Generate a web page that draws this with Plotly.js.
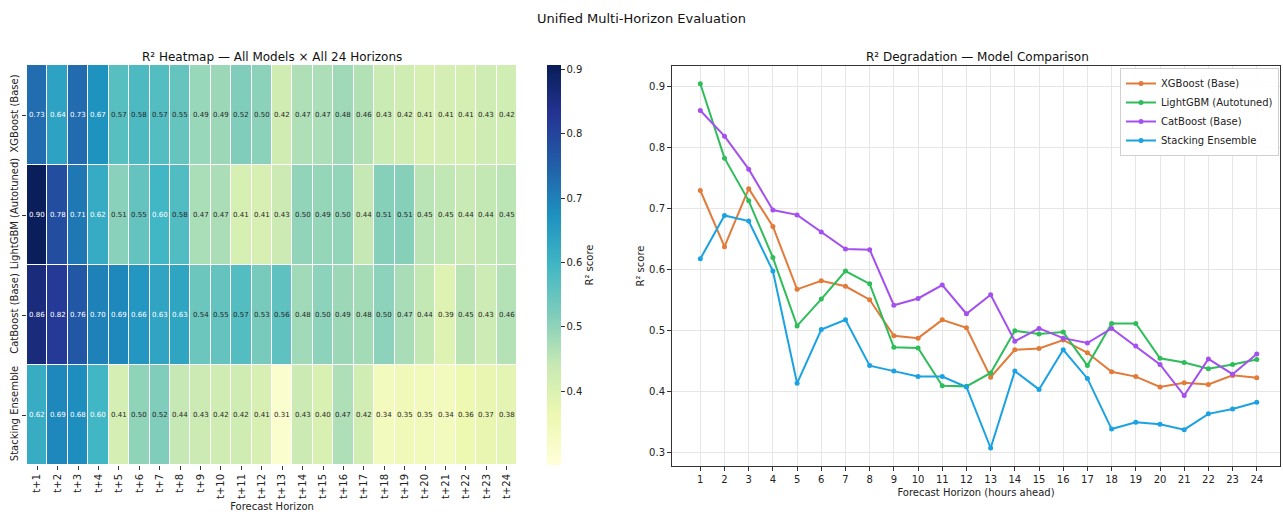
<!DOCTYPE html>
<html>
<head>
<meta charset="utf-8">
<script src="https://cdn.plot.ly/plotly-3.0.1.min.js"></script>
<style>html,body{margin:0;padding:0;background:#fff;}#chart{width:1283px;height:512px;}</style>
</head>
<body>
<div id="chart"></div>
<script>
const models = ["XGBoost (Base)", "LightGBM (Autotuned)", "CatBoost (Base)", "Stacking Ensemble"];
const horizons = [1,2,3,4,5,6,7,8,9,10,11,12,13,14,15,16,17,18,19,20,21,22,23,24];
const horizonLabels = horizons.map(h => "t+" + h);

const xgbR2 = [0.729,0.637,0.732,0.670,0.567,0.581,0.572,0.550,0.491,0.487,0.517,0.504,0.423,0.468,0.470,0.484,0.463,0.432,0.424,0.407,0.414,0.411,0.426,0.422];
const lgbmR2 = [0.904,0.782,0.712,0.619,0.507,0.551,0.597,0.576,0.472,0.471,0.409,0.408,0.430,0.499,0.494,0.497,0.442,0.511,0.511,0.454,0.447,0.437,0.444,0.452];
const catR2 = [0.860,0.818,0.764,0.697,0.689,0.661,0.633,0.632,0.541,0.552,0.574,0.527,0.558,0.482,0.503,0.487,0.479,0.503,0.474,0.444,0.393,0.453,0.428,0.461];
const stackR2 = [0.617,0.688,0.679,0.597,0.413,0.501,0.517,0.442,0.433,0.424,0.424,0.407,0.307,0.433,0.403,0.468,0.421,0.338,0.349,0.346,0.337,0.363,0.371,0.382];

const seriesAll = [xgbR2, lgbmR2, catR2, stackR2];
const lineColors = ["#e27a3a", "#2ebd5a", "#a450ef", "#1ba2e2"];

const ylgnbu = [
  [0.0, "#ffffd9"], [0.125, "#edf8b1"], [0.25, "#c7e9b4"], [0.375, "#7fcdbb"],
  [0.5, "#41b6c4"], [0.625, "#1d91c0"], [0.75, "#225ea8"], [0.875, "#253494"], [1.0, "#081d58"]
];

const font = "DejaVu Sans, Liberation Sans, sans-serif";
const W = 1283, H = 512;

const traces = [];
traces.push({
  type: "heatmap",
  x: horizonLabels,
  y: models,
  z: seriesAll,
  colorscale: ylgnbu,
  zmin: 0.285, zmax: 0.907,
  xgap: 1, ygap: 1,
  hoverinfo: "skip",
  xaxis: "x", yaxis: "y",
  colorbar: {
    x: 547 / W, xanchor: "left", xpad: 0,
    y: 1 - 265 / H, yanchor: "middle", ypad: 0,
    len: 400, lenmode: "pixels",
    thickness: 14, outlinewidth: 0,
    ticks: "outside", ticklen: 4, tickcolor: "#333",
    tickvals: [0.4, 0.5, 0.6, 0.7, 0.8, 0.9],
    ticktext: ["0.4", "0.5", "0.6", "0.7", "0.8", "0.9"],
    tickfont: { size: 10, color: "#222", family: font },
    title: { text: "R² score", side: "right", font: { size: 10, color: "#222", family: font } }
  }
});

models.forEach((m, i) => {
  traces.push({
    type: "scatter",
    mode: "lines+markers",
    name: m,
    x: horizons,
    y: seriesAll[i],
    line: { color: lineColors[i], width: 2 },
    marker: { color: lineColors[i], size: 5 },
    xaxis: "x2", yaxis: "y2",
    hoverinfo: "skip"
  });
});

const annotations = [];
models.forEach((m, i) => {
  seriesAll[i].forEach((v, j) => {
    annotations.push({
      x: horizonLabels[j], y: m, xref: "x", yref: "y",
      text: v.toFixed(2), showarrow: false,
      font: { size: 7, family: font, color: v > 0.59 ? "#ffffff" : "#262626" }
    });
  });
});

annotations.push({
  text: "R² Heatmap — All Models × All 24 Horizons", xref: "paper", yref: "paper",
  x: 272 / W, y: 1 - 57 / H, xanchor: "center", yanchor: "middle", showarrow: false,
  font: { size: 12, color: "#111", family: font }
});
annotations.push({
  text: "R² Degradation — Model Comparison", xref: "paper", yref: "paper",
  x: 977 / W, y: 1 - 57 / H, xanchor: "center", yanchor: "middle", showarrow: false,
  font: { size: 12, color: "#111", family: font }
});

const layout = {
  width: W, height: H,
  margin: { l: 0, r: 0, t: 0, b: 0 },
  paper_bgcolor: "#fff", plot_bgcolor: "#fff",
  font: { family: font, color: "#222" },
  title: { text: "Unified Multi-Horizon Evaluation", x: 0.5, xanchor: "center", y: 1 - 18 / H, yanchor: "middle",
           font: { size: 13, color: "#111", family: font } },
  showlegend: true,
  legend: {
    x: 1279 / W, xanchor: "right", y: 1 - 68 / H, yanchor: "top",
    bgcolor: "rgba(255,255,255,0.9)", bordercolor: "#d0d0d0", borderwidth: 1,
    font: { size: 10, color: "#222", family: font },
    tracegroupgap: 0, itemwidth: 30
  },
  xaxis: {
    domain: [27 / W, 517 / W], anchor: "y",
    type: "category",
    tickangle: -90, ticks: "outside", ticklen: 4, tickcolor: "#333",
    tickfont: { size: 10, color: "#222", family: font },
    showgrid: false, zeroline: false, showline: false,
    title: { text: "Forecast Horizon", font: { size: 10, color: "#222", family: font }, standoff: 4 }
  },
  yaxis: {
    domain: [1 - 465 / H, 1 - 65 / H], anchor: "x",
    type: "category", autorange: "reversed",
    tickangle: -90, ticks: "outside", ticklen: 4, tickcolor: "#333",
    tickfont: { size: 10, color: "#222", family: font },
    showgrid: false, zeroline: false, showline: false
  },
  xaxis2: {
    domain: [672 / W, 1280 / W], anchor: "y2",
    range: [-0.17, 24.96],
    tickvals: horizons, ticktext: horizons.map(String),
    ticks: "outside", ticklen: 4, tickcolor: "#333",
    tickfont: { size: 10, color: "#222", family: font },
    showgrid: true, gridcolor: "#e6e6e6", gridwidth: 1,
    zeroline: false, showline: true, linecolor: "#333", linewidth: 1, mirror: true,
    title: { text: "Forecast Horizon (hours ahead)", font: { size: 10, color: "#222", family: font }, standoff: 4 }
  },
  yaxis2: {
    domain: [1 - 466 / H, 1 - 66 / H], anchor: "x2",
    range: [0.2775, 0.933],
    tickvals: [0.3, 0.4, 0.5, 0.6, 0.7, 0.8, 0.9],
    ticktext: ["0.3", "0.4", "0.5", "0.6", "0.7", "0.8", "0.9"],
    ticks: "outside", ticklen: 4, tickcolor: "#333",
    tickfont: { size: 10, color: "#222", family: font },
    showgrid: true, gridcolor: "#e6e6e6", gridwidth: 1,
    zeroline: false, showline: true, linecolor: "#333", linewidth: 1, mirror: true,
    title: { text: "R² score", font: { size: 10, color: "#222", family: font }, standoff: 2 }
  },
  annotations: annotations
};

Plotly.newPlot("chart", traces, layout, { staticPlot: true, displayModeBar: false });
</script>
</body>
</html>
